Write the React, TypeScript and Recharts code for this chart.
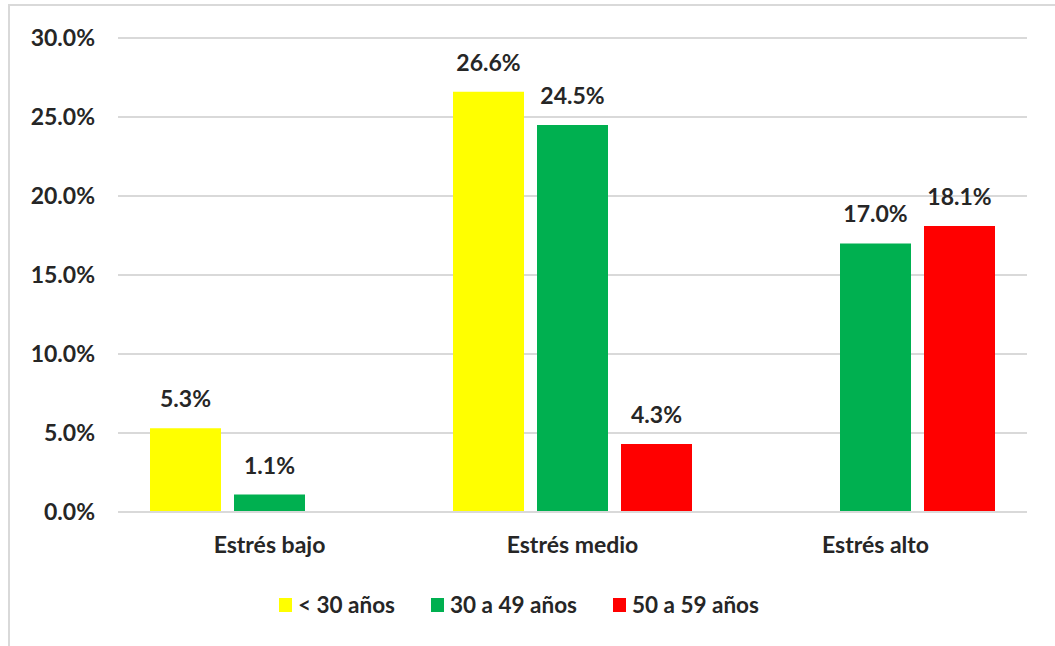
import React from "react";
import { BarChart, Bar, XAxis, YAxis, CartesianGrid, Legend, LabelList } from "recharts";

const categories = ["Estrés bajo", "Estrés medio", "Estrés alto"];
const menos30 = [5.3, 26.6, null];
const de30a49 = [1.1, 24.5, 17.0];
const de50a59 = [null, 4.3, 18.1];
const yTicks = [0, 5, 10, 15, 20, 25, 30];

const seriesNames = ["< 30 años", "30 a 49 años", "50 a 59 años"];
const seriesColors = ["#FFFF00", "#00B050", "#FF0000"];

const FONT = "Lato, 'Open Sans', sans-serif";
const TEXT = "#262626";

const data = categories.map((c, i) => ({
  name: c,
  a: menos30[i],
  b: de30a49[i],
  c: de50a59[i],
}));

const fmt = (v: any) => (v === null || v === undefined ? "" : `${Number(v).toFixed(1)}%`);

function LegendBox() {
  return (
    <div style={{ display: "flex", alignItems: "center", fontFamily: FONT, fontWeight: 700, fontSize: 22.5, color: TEXT }}>
      {seriesNames.map((n, i) => (
        <div key={n} style={{ display: "flex", alignItems: "center", marginRight: 36 }}>
          <span style={{ display: "inline-block", width: 13, height: 14, background: seriesColors[i], marginRight: 6 }} />
          <span>{n}</span>
        </div>
      ))}
    </div>
  );
}

export default function App() {
  const labelStyle = { fill: TEXT, fontFamily: FONT, fontWeight: 700, fontSize: 23 };
  return (
    <div style={{ position: "fixed", left: 0, top: 0, width: 1055, height: 646, background: "#fff" }}>
      <div
        style={{
          position: "absolute",
          left: 8,
          top: 4,
          width: 1060,
          height: 660,
          borderLeft: "2px solid #d9d9d9",
          borderTop: "2px solid #d9d9d9",
        }}
      />
      <div style={{ position: "absolute", left: 0, top: 0 }}>
        <BarChart
          width={1055}
          height={646}
          data={data}
          margin={{ top: 38, right: 28, bottom: 94, left: 0 }}
          barCategoryGap={32}
          barGap={13}
        >
          <CartesianGrid vertical={false} stroke="#d9d9d9" strokeWidth={2} />
          <XAxis
            dataKey="name"
            height={40}
            tickLine={false}
            axisLine={{ stroke: "#d9d9d9", strokeWidth: 2 }}
            tickSize={0}
            tickMargin={25}
            tick={{ fill: TEXT, fontFamily: FONT, fontWeight: 700, fontSize: 23 }}
          />
          <YAxis
            width={118}
            domain={[0, 30]}
            ticks={yTicks}
            tickFormatter={(v: number) => `${v.toFixed(1)}%`}
            tickLine={false}
            axisLine={false}
            tickSize={0}
            tickMargin={23}
            tick={{ fill: TEXT, fontFamily: FONT, fontWeight: 700, fontSize: 23 }}
          />
          <Legend
            layout="horizontal"
            verticalAlign="middle"
            align="center"
            wrapperStyle={{ left: 279, top: 591, width: "auto" }}
            content={() => <LegendBox />}
          />
          <Bar dataKey="a" name={seriesNames[0]} fill={seriesColors[0]} isAnimationActive={false}>
            <LabelList dataKey="a" position="top" offset={21} formatter={fmt} style={labelStyle} />
          </Bar>
          <Bar dataKey="b" name={seriesNames[1]} fill={seriesColors[1]} isAnimationActive={false}>
            <LabelList dataKey="b" position="top" offset={21} formatter={fmt} style={labelStyle} />
          </Bar>
          <Bar dataKey="c" name={seriesNames[2]} fill={seriesColors[2]} isAnimationActive={false}>
            <LabelList dataKey="c" position="top" offset={21} formatter={fmt} style={labelStyle} />
          </Bar>
        </BarChart>
      </div>
    </div>
  );
}
